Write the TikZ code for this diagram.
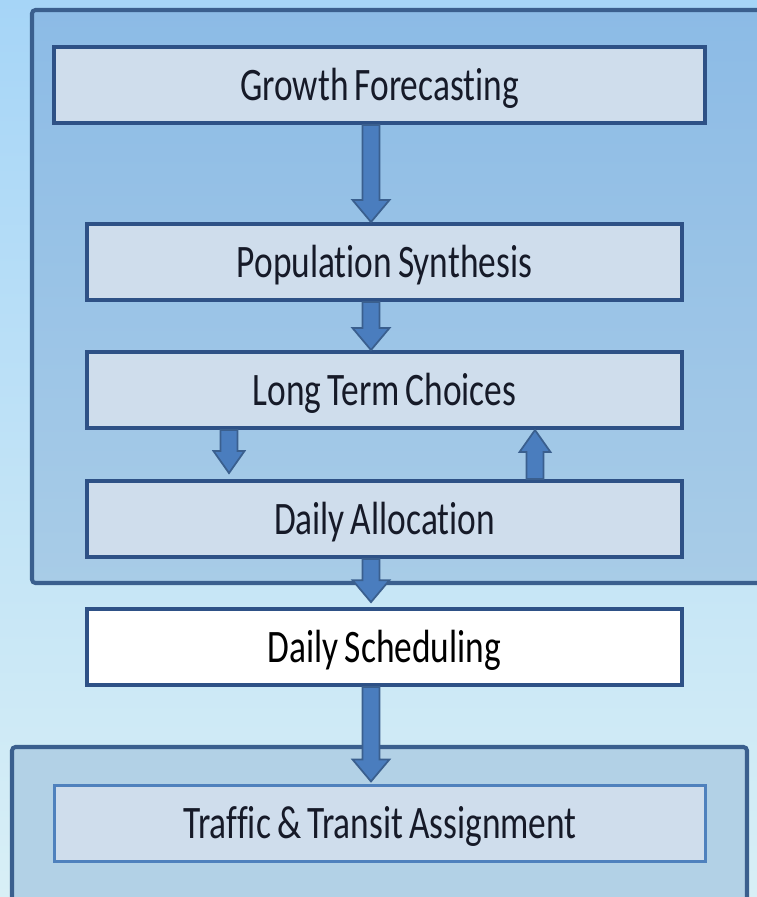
\documentclass[tikz,border=0pt]{standalone}
\usepackage{fontspec}
\usepackage{tikz}
\usetikzlibrary{positioning,calc}
\newfontfamily\stagefont{Carlito}[FakeStretch=0.76, Ligatures={NoCommon}, WordSpace=0.75]
\definecolor{skytop}{RGB}{166, 213, 247}
\definecolor{skybot}{RGB}{216, 239, 246}
\definecolor{frametop}{RGB}{140, 187, 230}
\definecolor{framebot}{RGB}{168, 204, 231}
\definecolor{lowframe}{RGB}{178, 209, 230}
\definecolor{frame}{RGB}{58, 95, 142}
\definecolor{edge}{RGB}{46, 81, 134}
\definecolor{lightedge}{RGB}{79, 129, 189}
\definecolor{boxfill}{RGB}{207, 221, 236}
\definecolor{arrowfill}{RGB}{74, 125, 190}
\definecolor{arrowedge}{RGB}{58, 95, 142}
\definecolor{ink}{RGB}{22, 26, 40}
\tikzset{
    stage/.style={rectangle, minimum width=11.9cm, minimum height=1.52cm, text height=0.6cm, text depth=0pt, text centered, draw=edge, line width=2.3pt, fill=boxfill, text=ink, font={\stagefont\fontsize{26.5}{30}\selectfont}},
    widestage/.style={stage, minimum width=13.02cm},
    container/.style={draw=frame, line width=2.3pt, rounded corners=2pt},
    blockarrow/.style={draw=arrowedge, fill=arrowfill, line width=1pt, line join=miter},
}
% block arrow from #2 to #3, optional head half width
\newcommand{\blockarrow}[3][10.5pt]{%
  \filldraw[blockarrow] let \p1=(#2), \p2=(#3), \n1={sign(\y2-\y1)} in
    (\x1-4.8pt,\y1) -- (\x1-4.8pt,\y2-\n1*12.5pt) -- (\x1-#1,\y2-\n1*12.5pt) -- (\x2,\y2)
    -- (\x1+#1,\y2-\n1*12.5pt) -- (\x1+4.8pt,\y2-\n1*12.5pt) -- (\x1+4.8pt,\y1) -- cycle;}

\begin{document}
\begin{tikzpicture}[x=0.02cm,y=-0.02cm]
  \useasboundingbox (0,0) rectangle (757,897);
  \clip (0,0) rectangle (757,897);
  \shade[top color=skytop, bottom color=skybot] (0,0) rectangle (757,897);

  % containers
  \shade[top color=frametop, bottom color=framebot] (32,10) rectangle (790,583);
  \draw[container] (32,10) rectangle (790,583);
  \fill[lowframe] (12,747) rectangle (747,910);
  \draw[container] (12,747) rectangle (747,910);

  % stages
  \node[widestage] (gf) at (379.5,85) {Growth Forecasting};
  \node[stage] (ps) [below=1.94cm of gf, xshift=0.1cm] {Population Synthesis};
  \node[stage] (ltc) [below=0.96cm of ps] {Long Term Choices};
  \node[stage] (da) [below=0.98cm of ltc] {Daily Allocation};
  \node[stage, fill=white, text=black] (ds) [below=0.96cm of da] {Daily Scheduling};
  \node[widestage, draw=lightedge, line width=1.8pt] (tta) [below=1.94cm of ds, xshift=-0.09cm] {Traffic \& Transit Assignment};

  % arrow columns
  \coordinate (mid) at (371,0);
  \coordinate (lcol) at (229,0);
  \coordinate (rcol) at (535,0);
  \coordinate (dain) at ([yshift=3.4pt]da.north -| lcol);
  \coordinate (dsin) at ([yshift=2.8pt]ds.north -| mid);
  \coordinate (ttain) at ([yshift=1.5pt]tta.north -| mid);

  \blockarrow{gf.south -| mid}{ps.north -| mid}
  \blockarrow{ps.south -| mid}{ltc.north -| mid}
  \blockarrow[8.8pt]{ltc.south -| lcol}{dain}
  \blockarrow[8.8pt]{da.north -| rcol}{ltc.south -| rcol}
  \blockarrow{da.south -| mid}{dsin}
  \blockarrow{ds.south -| mid}{ttain}
\end{tikzpicture}
\end{document}
